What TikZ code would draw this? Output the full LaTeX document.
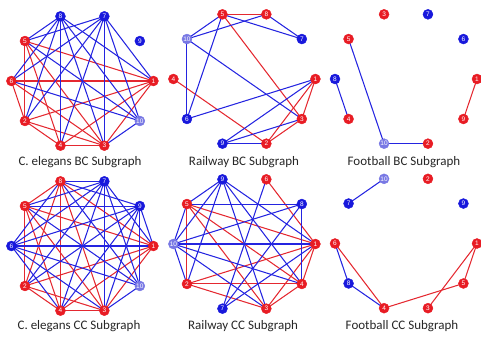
\documentclass[tikz,border=0pt]{standalone}
\usepackage{fontspec}
\setmainfont{Carlito}
\newfontfamily\lblfont{Liberation Sans}
\pgfdeclarelayer{bg}
\pgfsetlayers{bg,main}
\definecolor{nR}{RGB}{232,28,36}
\definecolor{nB}{RGB}{24,24,220}
\definecolor{nL}{RGB}{120,120,228}
\definecolor{eR}{RGB}{228,40,48}
\definecolor{eB}{RGB}{36,36,224}
\tikzset{
  gnode/.style={circle,fill=#1,draw=#1,inner sep=0.4pt,minimum size=10pt,
    text=white,font=\lblfont\fontsize{6.5}{6.5}\selectfont},
  er/.style={draw=eR,line width=1.05pt},
  eb/.style={draw=eB,line width=1.05pt},
  captext/.style={font=\fontsize{13}{15}\selectfont,text=black!85}
}
\newcommand\mkpanel[4]{%
  \foreach \lab/\col [count=\i from 0] in {#4} {
    \node[gnode=\col] (#1\lab) at ({#2+71*cos(36*\i)},{#3-68*sin(36*\i)}) {\lab};
  }}
\newcommand\redges[2]{\begin{pgfonlayer}{bg}\foreach \u/\v in {#2} {\draw[er] (#1\u.center)--(#1\v.center);}\end{pgfonlayer}}
\newcommand\bedges[2]{\begin{pgfonlayer}{bg}\foreach \u/\v in {#2} {\draw[eb] (#1\u.center)--(#1\v.center);}\end{pgfonlayer}}
\begin{document}
\begin{tikzpicture}[x=1pt,y=-1pt]
\useasboundingbox (0,0) rectangle (481,337);
% panel a: C. elegans BC
\mkpanel{a}{82.4}{81}{1/nR,9/nB,7/nB,8/nB,5/nR,6/nR,2/nR,4/nR,3/nR,10/nL}
\redges{a}{5/1,5/2,5/3,5/4,6/1,6/2,6/3,2/1,2/3,2/4,4/3,4/1,3/1}
\bedges{a}{8/5,8/4,8/1,8/3,8/2,8/10,8/6,7/5,7/6,7/2,7/3,7/1,7/4,7/10,10/3,10/5,10/6}
% panel b: Railway BC
\mkpanel{b}{244.4}{79}{1/nR,7/nB,8/nR,5/nR,10/nL,4/nR,6/nB,9/nB,2/nR,3/nR}
\redges{b}{5/8,5/3,4/2,1/3,1/2,3/2}
\bedges{b}{5/10,8/10,5/7,8/7,5/6,10/6,10/3,6/1,1/9,3/9,9/2}
% panel c: Football BC
\mkpanel{c}{406}{79}{1/nR,6/nB,7/nB,3/nR,5/nR,8/nB,4/nR,10/nL,2/nR,9/nR}
\redges{c}{1/9}
\bedges{c}{5/10,10/2,8/4}
% panel d: C. elegans CC
\mkpanel{d}{82.4}{246}{1/nR,9/nB,7/nB,8/nR,5/nR,6/nB,2/nR,4/nR,3/nR,10/nL}
\redges{d}{8/5,8/1,8/2,8/4,8/3,5/1,5/2,5/4,5/3,1/2,1/4,1/3,2/4,2/3,4/3}
\bedges{d}{7/8,7/5,7/1,7/3,7/4,7/2,7/6,7/10,9/5,9/8,9/10,9/6,9/2,9/4,9/3,6/1,6/8,6/10,6/3,6/4,10/5,10/8,10/3,9/1}
% panel e: Railway CC
\mkpanel{e}{244.4}{244}{1/nR,8/nB,6/nR,9/nB,5/nR,10/nL,2/nR,7/nB,3/nR,4/nR}
\redges{e}{5/1,5/4,5/3,5/2,6/1,2/1,2/4,2/3,3/4,1/4,1/3}
\bedges{e}{5/8,8/4,10/1,9/5,9/10,9/2,9/3,9/4,9/1,6/7,10/5,10/2,10/4,10/3,7/8,7/1,8/10}
% panel f: Football CC
\mkpanel{f}{406}{243.5}{1/nR,9/nB,2/nR,10/nL,7/nB,6/nR,8/nB,4/nR,3/nR,5/nR}
\redges{f}{6/4,4/5,5/1,1/3}
\bedges{f}{10/7,6/8,8/4}
% captions
\node[captext] (t1) at (80,162) {C. elegans BC Subgraph};
\node[captext] (t2) at (244,162) {Railway BC Subgraph};
\node[captext] (t3) at (404,162) {Football BC Subgraph};
\node[captext] (t4) at (79,326) {C. elegans CC Subgraph};
\node[captext] (t5) at (243,326) {Railway CC Subgraph};
\node[captext] (t6) at (402,326) {Football CC Subgraph};
\end{tikzpicture}
\end{document}
